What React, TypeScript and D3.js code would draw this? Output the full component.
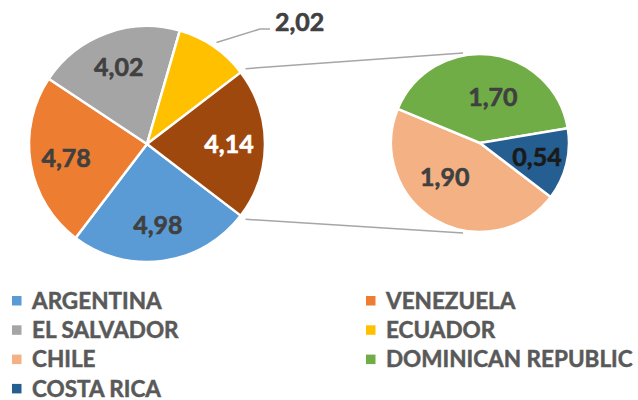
import React from "react";
import * as d3 from "d3";

const mainCategories = ["ARGENTINA", "VENEZUELA", "EL SALVADOR", "ECUADOR"];
const mainValues = [4.98, 4.78, 4.02, 2.02];
const secCategories = ["CHILE", "DOMINICAN REPUBLIC", "COSTA RICA"];
const secValues = [1.9, 1.7, 0.54];
const mainColors = ["#5B9BD5", "#ED7D31", "#A5A5A5", "#FFC000"];
const otherColor = "#9E480E";
const secColors = ["#F4B183", "#70AD47", "#255E91"];
const legendOrder = ["ARGENTINA", "VENEZUELA", "EL SALVADOR", "ECUADOR", "CHILE", "DOMINICAN REPUBLIC", "COSTA RICA"];

const W = 638;
const H = 400;
const FONT = "Lato, 'Open Sans', sans-serif";
const fmt = (v: number) => v.toFixed(2).replace(".", ",");

export default function App() {
  const cx = 147, cy = 144, R = 118;
  const cx2 = 480, cy2 = 143, r2 = 89;
  const other = d3.sum(secValues);
  const total = d3.sum(mainValues) + other;
  const otherAngle = (other / total) * 2 * Math.PI;
  const start = Math.PI / 2 + otherAngle / 2;

  const mainData = [...mainValues.map((v, i) => ({ name: mainCategories[i], value: v, color: mainColors[i] })), { name: "OTHER", value: other, color: otherColor }];
  const pie = d3.pie<any>().sort(null).value((d: any) => d.value).startAngle(start).endAngle(start + 2 * Math.PI);
  const mainArcs = pie(mainData);
  const arcGen = d3.arc<any>().innerRadius(0).outerRadius(R);
  const secArcs = pie(secValues.map((v, i) => ({ name: secCategories[i], value: v, color: secColors[i] })));
  const secArcGen = d3.arc<any>().innerRadius(0).outerRadius(r2);

  const pt = (x: number, y: number, a: number, r: number) => [x + r * Math.sin(a), y - r * Math.cos(a)];

  // label layout for secondary pie (angle shift in degrees, radius fraction)
  const secLabelLayout = [{ da: 16, rf: 0.55 }, { da: 9, rf: 0.54 }, { da: 0, rf: 0.66 }];
  const secLabelColor = ["#404040", "#404040", "#1a1a1a"];

  const otherArc = mainArcs[4];
  const [lx1, ly1] = pt(cx, cy, otherArc.startAngle, R + 6);
  const [lx2, ly2] = pt(cx, cy, otherArc.endAngle, R + 6);

  const legendY0 = 300.5, legendDy = 29.3;

  const lbl = (fill: string) => ({ fontSize: 25, fontWeight: 700, fill, stroke: fill, strokeWidth: 0.6 });

  return (
    <svg width={W} height={H} style={{ position: "absolute", left: 0, top: 0 }} fontFamily={FONT}>
      <rect width={W} height={H} fill="#fff" />
      {mainArcs.map((a, i) => (
        <path key={i} d={arcGen(a) as string} transform={`translate(${cx},${cy})`} fill={a.data.color} stroke="#fff" strokeWidth={2.5} strokeLinejoin="round" />
      ))}
      {secArcs.map((a, i) => (
        <path key={i} d={secArcGen(a) as string} transform={`translate(${cx2},${cy2})`} fill={a.data.color} stroke="#fff" strokeWidth={2.5} strokeLinejoin="round" />
      ))}
      <line x1={lx1} y1={ly1} x2={cx2 - 0.19 * r2} y2={cy2 - r2 - 1} stroke="#A6A6A6" strokeWidth={1.5} />
      <line x1={lx2} y1={ly2} x2={cx2 - 0.19 * r2} y2={cy2 + r2 + 1} stroke="#A6A6A6" strokeWidth={1.5} />
      {mainArcs.map((a, i) => {
        const mid = (a.startAngle + a.endAngle) / 2;
        if (a.data.name === "ECUADOR") {
          const [sx, sy] = pt(cx, cy, mid, R + 5);
          const ex = cx + 113, ey = cy - 115;
          return (
            <g key={i}>
              <polyline points={`${sx},${sy} ${ex},${ey} ${ex + 10},${ey}`} fill="none" stroke="#A6A6A6" strokeWidth={1.5} />
              <text x={ex + 15} y={ey - 7} dy="0.36em" {...lbl("#404040")}>{fmt(a.data.value)}</text>
            </g>
          );
        }
        const [tx, ty] = pt(cx, cy, mid, 82);
        return (
          <text key={i} x={tx} y={ty} dy="0.36em" textAnchor="middle" {...lbl(a.data.name === "OTHER" ? "#fff" : "#404040")}>{fmt(a.data.value)}</text>
        );
      })}
      {secArcs.map((a, i) => {
        const mid = (a.startAngle + a.endAngle) / 2 + (secLabelLayout[i].da * Math.PI) / 180;
        const [tx, ty] = pt(cx2, cy2, mid, r2 * secLabelLayout[i].rf);
        return (
          <text key={i} x={tx} y={ty} dy="0.36em" textAnchor="middle" {...lbl(secLabelColor[i])}>{fmt(a.data.value)}</text>
        );
      })}
      {legendOrder.map((name, i) => {
        const col = i % 2, row = Math.floor(i / 2);
        const x = col === 0 ? 12 : 366;
        const y = legendY0 + row * legendDy;
        const mi = mainCategories.indexOf(name);
        const color = mi >= 0 ? mainColors[mi] : secColors[secCategories.indexOf(name)];
        return (
          <g key={name}>
            <rect x={x} y={y - 4.5} width={9.5} height={9.5} fill={color} />
            <text x={x + 20} y={y} dy="0.36em" fontSize={22.5} fontWeight={700} fill="#595959" stroke="#595959" strokeWidth={0.5}>{name}</text>
          </g>
        );
      })}
    </svg>
  );
}
